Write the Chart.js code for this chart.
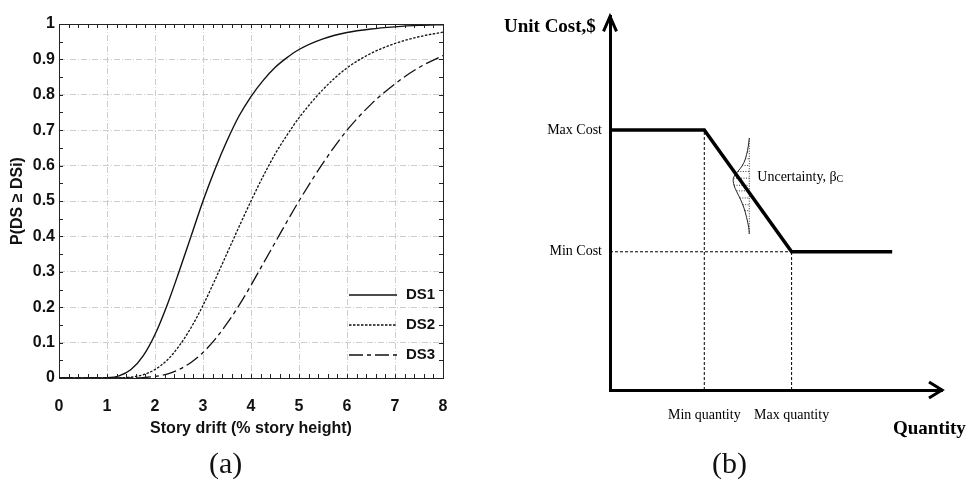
<!DOCTYPE html>
<html>
<head>
<meta charset="utf-8">
<script src="https://cdn.jsdelivr.net/npm/chart.js@4.4.1/dist/chart.umd.min.js"></script>
<style>
    body { margin: 0; background: #fff; width: 967px; height: 484px; overflow: hidden; position: relative; }
    canvas { position: absolute; top: 0; }
    #fragility { left: 0; }
    #costChart { left: 480px; }
    .caption { position: absolute; font-family: 'Liberation Serif', serif; font-size: 30px; color: #111; top: 446px; }
</style>
</head>
<body>
<canvas id="fragility" width="480" height="484"></canvas>
<canvas id="costChart" width="487" height="484"></canvas>
<div class="caption" style="left:209px">(a)</div>
<div class="caption" style="left:712px">(b)</div>
<script>
// (a) fragility curves
const drift = [0, 0.5, 1, 1.25, 1.5, 1.75, 2, 2.25, 2.5, 2.75, 3, 3.25, 3.5, 3.75, 4, 4.25, 4.5, 4.75, 5, 5.5, 6, 6.5, 7, 7.5, 8];
const ds1 = [0, 0, 0.001, 0.006, 0.024, 0.062, 0.123, 0.205, 0.30, 0.40, 0.50, 0.59, 0.67, 0.74, 0.795, 0.84, 0.877, 0.905, 0.928, 0.958, 0.976, 0.986, 0.992, 0.996, 0.998];
const ds2 = [0, 0, 0, 0.0004, 0.0025, 0.009, 0.024, 0.05, 0.09, 0.142, 0.205, 0.277, 0.352, 0.427, 0.50, 0.569, 0.632, 0.686, 0.735, 0.815, 0.876, 0.917, 0.945, 0.964, 0.977];
const ds3 = [0, 0, 0, 0, 0.0003, 0.0013, 0.0044, 0.011, 0.024, 0.044, 0.072, 0.109, 0.154, 0.205, 0.262, 0.322, 0.382, 0.442, 0.50, 0.607, 0.70, 0.773, 0.831, 0.877, 0.911];
const xTicks = [0, 1, 2, 3, 4, 5, 6, 7, 8];
const yTicks = [0, 0.1, 0.2, 0.3, 0.4, 0.5, 0.6, 0.7, 0.8, 0.9, 1];
const yTickLabels = ['0', '0.1', '0.2', '0.3', '0.4', '0.5', '0.6', '0.7', '0.8', '0.9', '1'];

// (b) unit cost schematic
const costQuantity = [0, 28.4, 54.7, 85];
const unitCost = [69.6, 69.6, 37, 37];
const costLevels = [37, 69.6];
const costLabels = ['Min Cost', 'Max Cost'];
const quantityLevels = [28.4, 54.7];
const quantityLabels = ['Min quantity', 'Max quantity'];
const bellQuantity = [41.96, 41.66, 41.17, 40.36, 39.16, 37.95, 37.14, 37.35, 38.16, 39.37, 40.36, 41.17, 41.78, 41.96];
const bellCost = [67.4, 65.3, 63.1, 60.9, 59.2, 57.9, 56.6, 54.8, 53.1, 50.9, 48.7, 46.1, 43.5, 41.8];
const hatchCost = [63.7, 61.9, 60.1, 58.5, 56.7, 54.8, 53.3, 51.4, 49.6, 48.0];

const sans = "'Liberation Sans Narrow', 'Liberation Sans', Arial, sans-serif";
const serif = "'Liberation Serif', 'Times New Roman', serif";

function points(xs, ys) {
    return xs.map((x, i) => ({ x: x, y: ys[i] }));
}

// frame, inward ticks and legend for (a)
const fragilityDecor = {
    id: 'fragilityDecor',
    afterDraw(chart) {
        const { ctx, chartArea: a, scales: { x, y } } = chart;
        ctx.save();
        ctx.strokeStyle = '#222';
        ctx.lineWidth = 1;
        ctx.strokeRect(a.left + 0.5, a.top + 0.5, a.right - a.left, a.bottom - a.top);
        ctx.beginPath();
        for (let v = 0.2; v < 8; v += 0.2) {
            const px = Math.round(x.getPixelForValue(v)) + 0.5;
            ctx.moveTo(px, a.top); ctx.lineTo(px, a.top + 4);
            ctx.moveTo(px, a.bottom); ctx.lineTo(px, a.bottom - 4);
        }
        for (let v = 0.05; v < 1; v += 0.05) {
            const py = Math.round(y.getPixelForValue(v)) + 0.5;
            ctx.moveTo(a.left, py); ctx.lineTo(a.left + 4, py);
            ctx.moveTo(a.right, py); ctx.lineTo(a.right - 4, py);
        }
        ctx.stroke();

        // legend in the lower right corner
        ctx.font = 'bold 15px ' + sans;
        ctx.textBaseline = 'middle';
        ctx.fillStyle = '#111';
        chart.data.datasets.forEach((ds, i) => {
            const rowY = a.bottom - 83 + i * 30;
            ctx.beginPath();
            ctx.setLineDash(ds.borderDash || []);
            ctx.lineWidth = ds.borderWidth;
            ctx.strokeStyle = ds.borderColor;
            ctx.moveTo(a.right - 94, rowY);
            ctx.lineTo(a.right - 46, rowY);
            ctx.stroke();
            ctx.fillText(ds.label, a.right - 37, rowY);
        });
        ctx.restore();
    }
};

new Chart(document.getElementById('fragility'), {
    type: 'line',
    data: {
        datasets: [
            { label: 'DS1', data: points(drift, ds1), borderColor: '#111', borderWidth: 1.4 },
            { label: 'DS2', data: points(drift, ds2), borderColor: '#111', borderWidth: 1.3, borderDash: [2.5, 1.5] },
            { label: 'DS3', data: points(drift, ds3), borderColor: '#111', borderWidth: 1.3, borderDash: [14, 4, 4, 4] }
        ]
    },
    options: {
        responsive: false,
        animation: false,
        devicePixelRatio: 1,
        layout: { padding: { left: 0, top: 24, right: 37, bottom: 46 } },
        elements: { point: { radius: 0 }, line: { cubicInterpolationMode: 'monotone', fill: false } },
        plugins: { legend: { display: false }, tooltip: { enabled: false } },
        scales: {
            x: {
                type: 'linear',
                min: 0,
                max: 8,
                afterBuildTicks: s => { s.ticks = xTicks.map(v => ({ value: v })); },
                afterFit: s => { s.height = 60; },
                ticks: { color: '#111', font: { family: sans, size: 16, weight: 'bold' }, padding: 19, maxRotation: 0, autoSkip: false },
                grid: { color: '#cdcdcd', lineWidth: 1, drawTicks: false },
                border: { display: false, dash: [6, 2, 1, 2] },
                title: { display: true, text: 'Story drift (% story height)', color: '#111', font: { family: sans, size: 16, weight: 'bold' }, padding: { bottom: 0 } }
            },
            y: {
                type: 'linear',
                min: 0,
                max: 1,
                afterBuildTicks: s => { s.ticks = yTicks.map(v => ({ value: v })); },
                afterFit: s => { s.width = 59; },
                ticks: { color: '#111', font: { family: sans, size: 16, weight: 'bold' }, padding: 4, callback: (v, i) => yTickLabels[i] },
                grid: { color: '#cdcdcd', lineWidth: 1, drawTicks: false },
                border: { display: false, dash: [6, 2, 1, 2] },
                title: { display: true, text: 'P(DS \u2265 DSi)', color: '#111', font: { family: 'Liberation Sans', size: 16, weight: 'bold' }, padding: { top: 8 } }
            }
        }
    },
    plugins: [fragilityDecor]
});

// linear interpolation of the bell outline at a given cost
function bellAt(c) {
    for (let i = 0; i < bellCost.length - 1; i++) {
        const c0 = bellCost[i], c1 = bellCost[i + 1];
        if (c <= c0 && c >= c1) {
            const t = (c0 - c) / (c0 - c1);
            return bellQuantity[i] + t * (bellQuantity[i + 1] - bellQuantity[i]);
        }
    }
    return bellQuantity[0];
}

const bellBase = bellQuantity[0];
const hatchSets = hatchCost.map(c => ({
    data: [{ x: bellAt(c), y: c }, { x: bellBase, y: c }],
    borderColor: '#333',
    borderWidth: 1,
    borderDash: [1, 1.5]
}));

// arrows and axis captions for (b)
const costDecor = {
    id: 'costDecor',
    afterDraw(chart) {
        const { ctx, chartArea: a, scales: { x, y } } = chart;
        ctx.save();
        ctx.strokeStyle = '#000';
        ctx.lineWidth = 3;
        ctx.beginPath();
        ctx.moveTo(a.left - 6.5, a.top + 15); ctx.lineTo(a.left, a.top); ctx.lineTo(a.left + 6.5, a.top + 15);
        ctx.moveTo(a.right - 13, a.bottom - 8); ctx.lineTo(a.right, a.bottom); ctx.lineTo(a.right - 13, a.bottom + 8);
        ctx.stroke();

        ctx.fillStyle = '#000';
        ctx.textBaseline = 'middle';
        ctx.font = 'bold 19px ' + serif;
        ctx.fillText('Unit Cost,$', 24, 27);
        ctx.fillText('Quantity', a.right - 49, a.bottom + 39);

        const ux = x.getPixelForValue(bellBase) + 8;
        const uy = y.getPixelForValue(56.9);
        ctx.font = '14px ' + serif;
        ctx.fillText('Uncertainty, \u03b2', ux, uy);
        const w = ctx.measureText('Uncertainty, \u03b2').width;
        ctx.font = '10px ' + serif;
        ctx.fillText('C', ux + w, uy + 2);
        ctx.restore();
    }
};

new Chart(document.getElementById('costChart'), {
    type: 'line',
    data: {
        datasets: [
            { data: points(costQuantity, unitCost), borderColor: '#000', borderWidth: 3.5, borderJoinStyle: 'miter' },
            { data: [{ x: quantityLevels[0], y: 0 }, { x: quantityLevels[0], y: unitCost[0] }], borderColor: '#000', borderWidth: 1, borderDash: [3, 2] },
            { data: [{ x: 0, y: costLevels[0] }, { x: quantityLevels[1], y: costLevels[0] }], borderColor: '#000', borderWidth: 1, borderDash: [3, 2] },
            { data: [{ x: quantityLevels[1], y: 0 }, { x: quantityLevels[1], y: costLevels[0] }], borderColor: '#000', borderWidth: 1, borderDash: [3, 2] },
            { data: points(bellQuantity, bellCost), borderColor: '#222', borderWidth: 1, tension: 0.35 },
            { data: [{ x: bellBase, y: bellCost[0] }, { x: bellBase, y: bellCost[bellCost.length - 1] }], borderColor: '#333', borderWidth: 1, borderDash: [1, 1.5] }
        ].concat(hatchSets)
    },
    options: {
        responsive: false,
        animation: false,
        devicePixelRatio: 1,
        layout: { padding: { left: 0, top: 7, right: 25, bottom: 0 } },
        elements: { point: { radius: 0 }, line: { fill: false } },
        plugins: { legend: { display: false }, tooltip: { enabled: false } },
        scales: {
            x: {
                type: 'linear',
                min: 0,
                max: 100,
                afterBuildTicks: s => { s.ticks = quantityLevels.map(v => ({ value: v })); },
                afterFit: s => { s.height = 94; },
                ticks: { color: '#000', font: { family: serif, size: 14 }, padding: 17, maxRotation: 0, autoSkip: false, callback: (v, i) => quantityLabels[i] },
                grid: { display: false, drawTicks: false },
                border: { display: true, color: '#000', width: 3 }
            },
            y: {
                type: 'linear',
                min: 0,
                max: 100,
                afterBuildTicks: s => { s.ticks = costLevels.map(v => ({ value: v })); },
                afterFit: s => { s.width = 130; },
                ticks: { color: '#000', font: { family: serif, size: 14 }, padding: 8, callback: (v, i) => costLabels[i] },
                grid: { display: false, drawTicks: false },
                border: { display: true, color: '#000', width: 3 }
            }
        }
    },
    plugins: [costDecor]
});
</script>
</body>
</html>
